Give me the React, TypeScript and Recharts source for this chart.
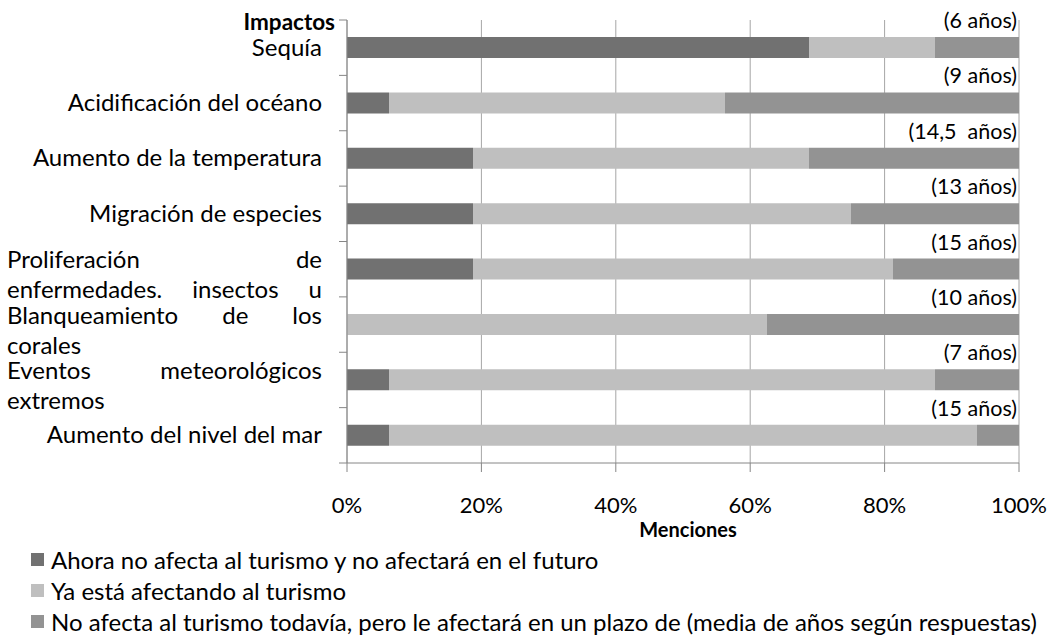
import React from 'react';
import { BarChart, Bar, XAxis, YAxis, CartesianGrid, Legend, LabelList } from 'recharts';

const categories = [
  'Sequía',
  'Acidificación del océano',
  'Aumento de la temperatura',
  'Migración de especies',
  'Proliferación de enfermedades. insectos u',
  'Blanqueamiento de los corales',
  'Eventos meteorológicos extremos',
  'Aumento del nivel del mar',
];
const noAfecta = [68.75, 6.25, 18.75, 18.75, 18.75, 0, 6.25, 6.25];
const yaAfecta = [18.75, 50, 50, 56.25, 62.5, 62.5, 81.25, 87.5];
const afectara = [12.5, 43.75, 31.25, 25, 18.75, 37.5, 12.5, 6.25];
const plazos = ['(6 años)', '(9 años)', '(14,5  años)', '(13 años)', '(15 años)', '(10 años)', '(7 años)', '(15 años)'];
const xTicks = [0, 20, 40, 60, 80, 100];
const seriesNames = [
  'Ahora no afecta al turismo y no afectará en el futuro',
  'Ya está afectando al turismo',
  'No afecta al turismo todavía, pero le afectará en un plazo de (media de años según respuestas)',
];
const seriesColors = ['#717171', '#bfbfbf', '#939393'];

const data = categories.map((name, i) => ({
  name,
  a: noAfecta[i],
  b: yaAfecta[i],
  c: afectara[i],
  plazo: plazos[i],
}));

const FONT = 'Lato';
const AXIS = '#868686';
const GRID = '#a6a6a6';
const LABEL_W = 315;
const CAT_SIZE = 24;
const LINE_H = 30;

let ctx: CanvasRenderingContext2D | null = null;
const measure = (t: string, font: string) => {
  if (!ctx) ctx = document.createElement('canvas').getContext('2d');
  if (!ctx) return t.length * 11;
  ctx.font = font;
  return ctx.measureText(t).width;
};

function wrapWords(text: string, font: string, maxW: number) {
  const words = text.split(' ');
  const lines: string[][] = [];
  let cur: string[] = [];
  for (const w of words) {
    const trial = [...cur, w].join(' ');
    if (cur.length && measure(trial, font) > maxW) {
      lines.push(cur);
      cur = [w];
    } else {
      cur.push(w);
    }
  }
  if (cur.length) lines.push(cur);
  return lines;
}

function CategoryTick(props: any) {
  const { x, y, payload, index, visibleTicksCount } = props;
  const half = payload && typeof payload.offset === 'number' && payload.offset > 0 ? payload.offset : 27.7;
  const text = String(payload.value);
  const font = `${CAT_SIZE}px ${FONT}`;
  const right = x - 25;
  const left = right - LABEL_W;
  const lines = wrapWords(text, font, LABEL_W);
  const common = { fontFamily: FONT, fontSize: CAT_SIZE, fill: '#000' };
  const content: React.ReactNode[] = [];
  if (lines.length === 1) {
    content.push(
      <text key="t" x={right} y={y + 8} textAnchor="end" {...common}>
        {text}
      </text>
    );
  } else {
    const firstBase = y + 6 - ((lines.length - 1) * LINE_H) / 2 + 8;
    lines.forEach((words, li) => {
      const base = firstBase + li * LINE_H;
      const lineText = words.join(' ');
      const isLast = li === lines.length - 1;
      const justify = words.length > 1 && (!isLast || measure(lineText, font) > 0.75 * LABEL_W);
      if (!justify) {
        content.push(
          <text key={`l${li}`} x={left} y={base} textAnchor="start" {...common}>
            {lineText}
          </text>
        );
      } else {
        const widths = words.map((w) => measure(w, font));
        const total = widths.reduce((s, v) => s + v, 0);
        const gap = (LABEL_W - total) / (words.length - 1);
        let cx = left;
        words.forEach((w, wi) => {
          content.push(
            <text key={`l${li}w${wi}`} x={cx} y={base} textAnchor="start" {...common}>
              {w}
            </text>
          );
          cx += widths[wi] + gap;
        });
      }
    });
  }
  return (
    <g>
      <line x1={x - 8} x2={x} y1={y - half} y2={y - half} stroke={AXIS} strokeWidth={1} />
      {index === visibleTicksCount - 1 && (
        <line x1={x - 8} x2={x} y1={y + half} y2={y + half} stroke={AXIS} strokeWidth={1} />
      )}
      {content}
    </g>
  );
}

function PlazoLabel(props: any) {
  const { x, y, width, value } = props;
  return (
    <text
      x={Number(x) + Number(width) - 2}
      y={Number(y) - 9}
      textAnchor="end"
      fontFamily={FONT}
      fontSize={21.5}
      fill="#000"
      xmlSpace="preserve"
      style={{ whiteSpace: 'pre' }}
    >
      {value}
    </text>
  );
}

function LegendContent() {
  return (
    <div style={{ height: 92, fontFamily: FONT }}>
      {seriesNames.map((n, i) => (
        <div key={i} style={{ height: 31, display: 'flex', alignItems: 'center' }}>
          <div style={{ marginLeft: 31, width: 13, height: 13, background: seriesColors[i] }} />
          <div style={{ marginLeft: 7, fontSize: 24, color: '#000', whiteSpace: 'nowrap' }}>{n}</div>
        </div>
      ))}
    </div>
  );
}

export default function App() {
  return (
    <div style={{ position: 'absolute', left: 0, top: 0, width: 1058, height: 636, background: '#fff' }}>
      <BarChart
        width={1058}
        height={636}
        data={data}
        layout="vertical"
        margin={{ top: 20, right: 39, bottom: 0, left: 0 }}
        barSize={21}
      >
        <CartesianGrid horizontal={false} stroke={GRID} />
        <XAxis
          type="number"
          domain={[0, 100]}
          ticks={xTicks}
          interval={0}
          tickFormatter={(v: number) => `${v}%`}
          axisLine={{ stroke: AXIS }}
          tickLine={{ stroke: AXIS }}
          tickSize={9}
          tickMargin={25}
          height={81}
          tick={{ fill: '#000', fontSize: 22, fontFamily: FONT }}
          label={{
            content: (lp: any) => {
              const vb = lp.viewBox || {};
              return (
                <text
                  x={vb.x + vb.width / 2 + 5}
                  y={vb.y + vb.height - 7}
                  textAnchor="middle"
                  fontFamily={FONT}
                  fontWeight="bold"
                  fontSize={20}
                  fill="#000"
                >
                  Menciones
                </text>
              );
            },
          }}
        />
        <YAxis
          type="category"
          dataKey="name"
          width={347}
          axisLine={{ stroke: AXIS }}
          tickLine={false}
          tickSize={0}
          tickMargin={0}
          interval={0}
          tick={<CategoryTick />}
          label={{
            content: (lp: any) => {
              const vb = lp.viewBox || {};
              return (
                <text
                  x={vb.x + vb.width - 12}
                  y={vb.y + 10}
                  textAnchor="end"
                  fontFamily={FONT}
                  fontWeight="bold"
                  fontSize={22.5}
                  fill="#000"
                >
                  Impactos
                </text>
              );
            },
          }}
        />
        <Legend
          verticalAlign="bottom"
          align="left"
          wrapperStyle={{ left: 0, bottom: 0, width: 1058, height: 92 }}
          content={<LegendContent />}
        />
        <Bar dataKey="a" name={seriesNames[0]} stackId="s" fill={seriesColors[0]} isAnimationActive={false} />
        <Bar dataKey="b" name={seriesNames[1]} stackId="s" fill={seriesColors[1]} isAnimationActive={false} />
        <Bar dataKey="c" name={seriesNames[2]} stackId="s" fill={seriesColors[2]} isAnimationActive={false}>
          <LabelList dataKey="plazo" content={<PlazoLabel />} />
        </Bar>
      </BarChart>
    </div>
  );
}
